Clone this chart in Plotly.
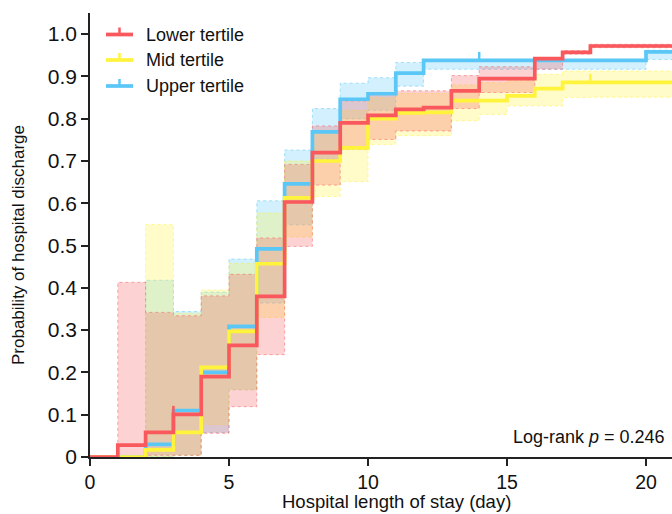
import plotly.graph_objects as go

# ---- data (step values for day intervals [d, d+1)) ----
days = list(range(0, 21))
x_end = 21

lower_line = [0, 0.028, 0.058, 0.101, 0.19, 0.264, 0.38, 0.603, 0.72, 0.79, 0.808,
              0.822, 0.826, 0.866, 0.895, 0.895, 0.942, 0.957, 0.972, 0.972, 0.972]
lower_lo = [0, 0, 0.004, 0.004, 0.056, 0.119, 0.242, 0.498, 0.643, 0.728, 0.751,
            0.771, 0.771, 0.824, 0.862, 0.862, 0.917, 0.953, 0.968, 0.968, 0.968]
lower_hi = [0, 0.413, 0.342, 0.334, 0.381, 0.432, 0.518, 0.692, 0.783, 0.842, 0.858,
            0.866, 0.866, 0.902, 0.923, 0.923, 0.944, 0.961, 0.976, 0.976, 0.976]

mid_line = [0, 0, 0.017, 0.058, 0.212, 0.297, 0.457, 0.613, 0.70, 0.731, 0.80,
            0.814, 0.815, 0.843, 0.843, 0.854, 0.871, 0.886, 0.886, 0.886, 0.886]
mid_lo = [0, 0, 0, 0.004, 0.077, 0.159, 0.33, 0.52, 0.616, 0.651, 0.739,
          0.76, 0.76, 0.795, 0.81, 0.83, 0.83, 0.85, 0.851, 0.851, 0.851]
mid_hi = [0, 0, 0.55, 0.34, 0.395, 0.458, 0.577, 0.70, 0.77, 0.82, 0.85,
          0.86, 0.86, 0.88, 0.885, 0.89, 0.905, 0.913, 0.913, 0.913, 0.913]

upper_line = [0, 0, 0.03, 0.11, 0.20, 0.309, 0.492, 0.646, 0.769, 0.846, 0.859,
              0.908, 0.938, 0.938, 0.938, 0.938, 0.938, 0.938, 0.938, 0.938, 0.958]
upper_lo = [0, 0, 0, 0.004, 0.058, 0.159, 0.364, 0.549, 0.704, 0.80, 0.82,
            0.877, 0.917, 0.917, 0.917, 0.917, 0.917, 0.917, 0.917, 0.917, 0.94]
upper_hi = [0, 0, 0.418, 0.344, 0.39, 0.468, 0.606, 0.726, 0.824, 0.884, 0.897,
            0.933, 0.94, 0.94, 0.94, 0.94, 0.94, 0.94, 0.94, 0.94, 0.962]

# censored observations (day)
lower_censor = [3]
mid_censor = [18]
upper_censor = [14]

series_names = ["Lower tertile", "Mid tertile", "Upper tertile"]
p_text = "Log-rank <i>p</i> = 0.246"

# ---- styles ----
RED = (249, 88, 92)
YEL = (255, 243, 60)
BLU = (90, 199, 247)
FONT = "Liberation Sans, Arial, sans-serif"
TICK_H = 0.02

def rgba(c, a):
    return f"rgba({c[0]},{c[1]},{c[2]},{a})"

def ext(v):
    return list(v) + [v[-1]]

xs = days + [x_end]

fig = go.Figure()

series = [
    (series_names[0], lower_line, lower_lo, lower_hi, lower_censor, RED),
    (series_names[1], mid_line, mid_lo, mid_hi, mid_censor, YEL),
    (series_names[2], upper_line, upper_lo, upper_hi, upper_censor, BLU),
]

# bands: blue bottom, yellow, red top
for name, line, lo, hi, cens, col in [series[2], series[1], series[0]]:
    fig.add_trace(go.Scatter(x=xs, y=ext(lo), mode="lines", line_shape="hv",
                             line=dict(color=rgba(col, 0.5), width=1, dash="dot"),
                             showlegend=False, hoverinfo="skip"))
    fig.add_trace(go.Scatter(x=xs, y=ext(hi), mode="lines", line_shape="hv",
                             line=dict(color=rgba(col, 0.5), width=1, dash="dot"),
                             fill="tonexty", fillcolor=rgba(col, 0.27),
                             showlegend=False, hoverinfo="skip"))

# survival lines
for name, line, lo, hi, cens, col in [series[2], series[1], series[0]]:
    fig.add_trace(go.Scatter(x=xs, y=ext(line), mode="lines", line_shape="hv",
                             line=dict(color=rgba(col, 1), width=3.7),
                             name=name, showlegend=False))
    cx, cy = [], []
    for d in cens:
        v = line[days.index(d)]
        cx += [d, d, None]
        cy += [v, v + TICK_H, None]
    fig.add_trace(go.Scatter(x=cx, y=cy, mode="lines",
                             line=dict(color=rgba(col, 1), width=2.5),
                             showlegend=False, hoverinfo="skip"))

# ---- layout ----
L, R, T, B = 90, 0, 13, 57
W, H = 672, 514
PW, PH = W - L - R, H - T - B

def px2x(px):
    return (px - L) / PW

def py2y(py):
    return (H - B - py) / PH

shapes = []
annotations = []
leg_rows = [34.5, 60, 86]
for (name, line, lo, hi, cens, col), yy in zip(series, leg_rows):
    shapes.append(dict(type="line", xref="paper", yref="paper",
                       x0=px2x(106), x1=px2x(133), y0=py2y(yy), y1=py2y(yy),
                       line=dict(color=rgba(col, 1), width=3.7)))
    shapes.append(dict(type="line", xref="paper", yref="paper",
                       x0=px2x(119.5), x1=px2x(119.5), y0=py2y(yy), y1=py2y(yy - 7),
                       line=dict(color=rgba(col, 1), width=2.5)))
    annotations.append(dict(xref="paper", yref="paper", x=px2x(144), y=py2y(yy),
                            text=name, showarrow=False, xanchor="left", yanchor="middle",
                            font=dict(family=FONT, size=18, color="#111")))

annotations.append(dict(xref="paper", yref="paper", x=px2x(667), y=py2y(437),
                        text=p_text, showarrow=False, xanchor="right", yanchor="middle",
                        font=dict(family=FONT, size=18, color="#111")))
annotations.append(dict(xref="paper", yref="paper", x=px2x(396), y=py2y(514),
                        text="Hospital length of stay (day)", showarrow=False,
                        xanchor="center", yanchor="bottom",
                        font=dict(family=FONT, size=18.5, color="#111")))
annotations.append(dict(xref="paper", yref="paper", x=px2x(18), y=py2y(245),
                        text="Probability of hospital discharge", showarrow=False,
                        textangle=-90, xanchor="center", yanchor="middle",
                        font=dict(family=FONT, size=17, color="#111")))

yt = [i / 10 for i in range(11)]
ytt = ["0"] + [f"{v:.1f}" for v in yt[1:]]

fig.update_layout(
    width=W, height=H,
    margin=dict(l=L, r=R, t=T, b=B),
    paper_bgcolor="white", plot_bgcolor="white",
    showlegend=False,
    shapes=shapes, annotations=annotations,
    font=dict(family=FONT, color="#111"),
    xaxis=dict(range=[0, PW / 27.8], showgrid=False, zeroline=False,
               showline=True, linecolor="#222", linewidth=1.5,
               ticks="outside", ticklen=7, tickwidth=1.5, tickcolor="#222",
               tickvals=[0, 5, 10, 15, 20], ticktext=["0", "5", "10", "15", "20"],
               tickfont=dict(family=FONT, size=19.5, color="#111")),
    yaxis=dict(range=[0, 1.05], showgrid=False, zeroline=False,
               showline=True, linecolor="#222", linewidth=1.5,
               ticks="outside", ticklen=7, tickwidth=1.5, tickcolor="#222",
               tickvals=yt, ticktext=ytt,
               tickfont=dict(family=FONT, size=21, color="#111")),
)

fig.write_html("out.html", config={"displayModeBar": False})

# remove the browser's default page margin so the figure sits at the top-left corner
with open("out.html", "r", encoding="utf-8") as f:
    html = f.read()
html = html.replace("<head>", "<head><style>html,body{margin:0;padding:0;overflow:hidden;}</style>", 1)
with open("out.html", "w", encoding="utf-8") as f:
    f.write(html)
